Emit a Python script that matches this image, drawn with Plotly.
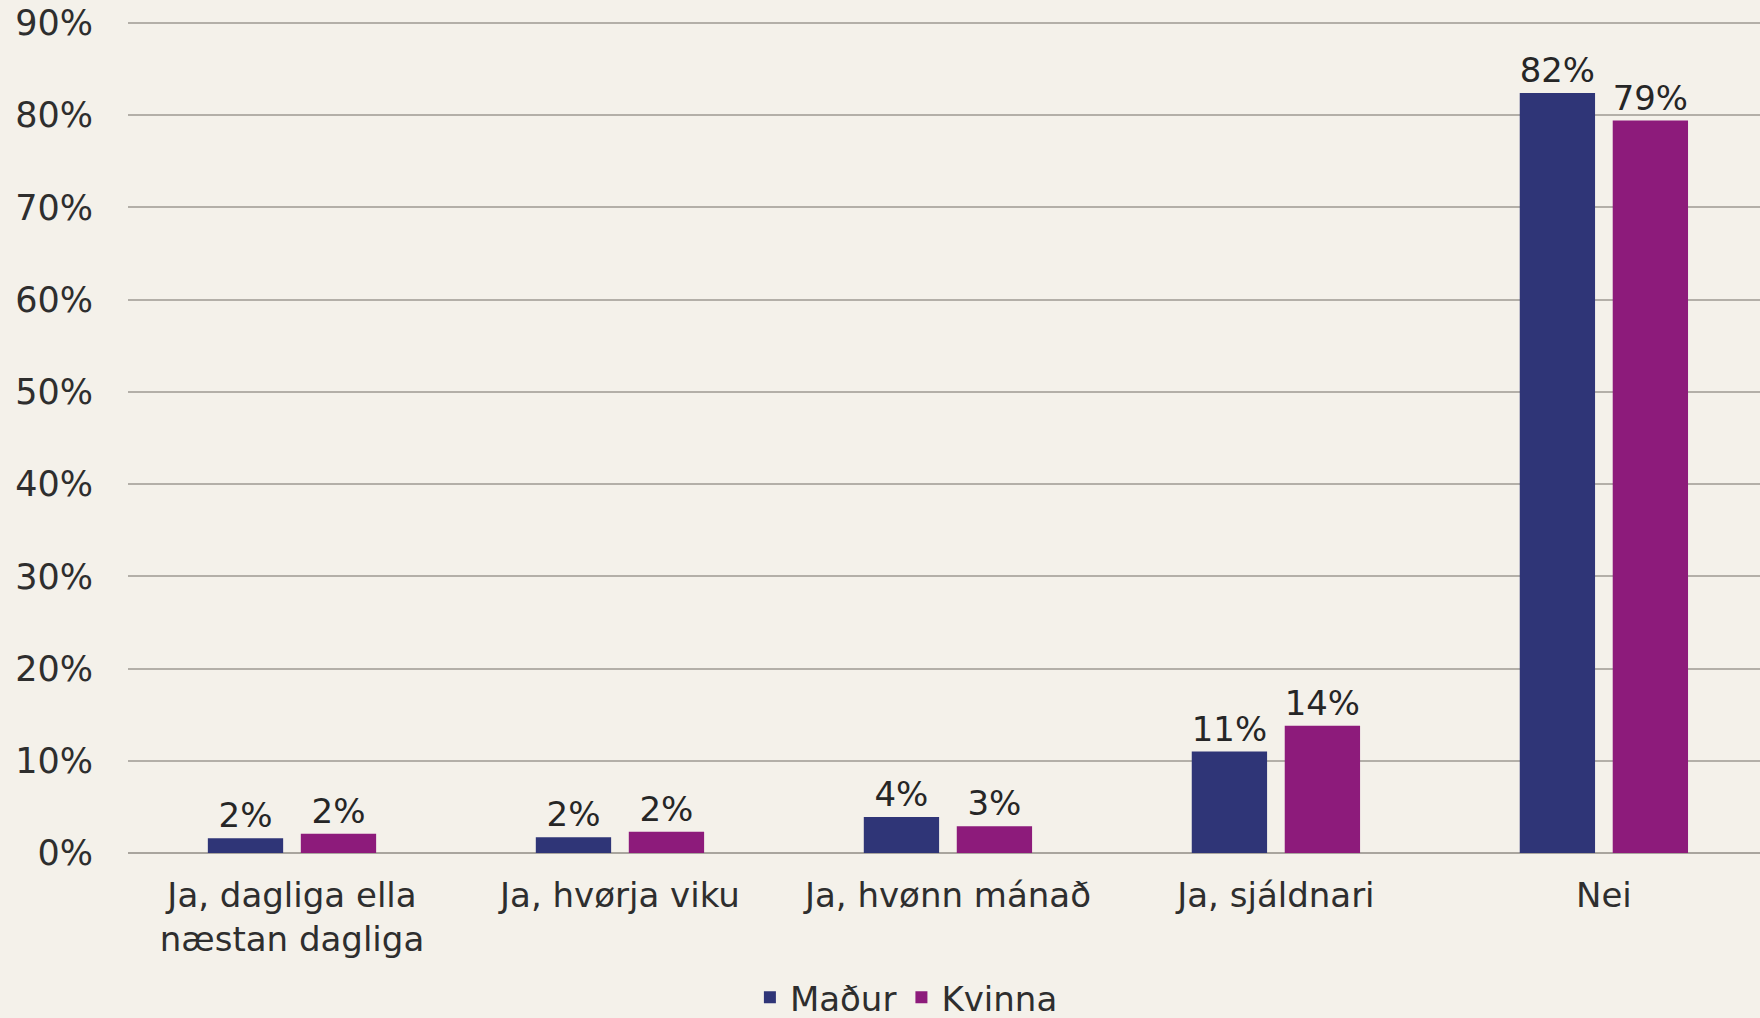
import plotly.graph_objects as go

categories = ["Ja, dagliga ella<br>næstan dagliga", "Ja, hvørja viku", "Ja, hvønn mánað",
              "Ja, sjáldnari", "Nei"]
madur = [1.6, 1.7, 3.9, 11.0, 82.4]
kvinna = [2.1, 2.3, 2.9, 13.8, 79.4]
y_ticks = [0, 10, 20, 30, 40, 50, 60, 70, 80, 90]

FONT = "DejaVu Sans, Verdana, sans-serif"
BG = "#f4f1ea"

fig = go.Figure()
fig.add_trace(go.Bar(x=categories, y=madur, name="Maður", marker_color="#2f3577",
                     texttemplate="%{y:.0f}%", textposition="outside", cliponaxis=False))
fig.add_trace(go.Bar(x=categories, y=kvinna, name="Kvinna", marker_color="#8d1b7b",
                     texttemplate="%{y:.0f}%", textposition="outside", cliponaxis=False))

fig.update_traces(textfont=dict(size=34, color="#262626", family=FONT), marker_line_width=0)

fig.update_layout(
    width=1760, height=1018,
    margin=dict(l=128, r=0, t=20, b=165),
    paper_bgcolor=BG, plot_bgcolor=BG,
    font=dict(family=FONT, size=34, color="#2e2e2e"),
    barmode="group", bargap=0.433, bargroupgap=0.19,
    xaxis=dict(range=[-0.5, 4.476], showgrid=False, ticks="", tickfont=dict(size=34),
               ticklabelstandoff=19),
    yaxis=dict(range=[0, 90.3], tickvals=y_ticks, ticktext=[f"{v}%" for v in y_ticks],
               showgrid=True, gridcolor="#b3afa8", gridwidth=1.5, zeroline=True,
               zerolinecolor="#a9a59e", zerolinewidth=1.5, ticklabelstandoff=34,
               tickfont=dict(size=35)),
    legend=dict(orientation="h", x=0.515, xref="container", xanchor="center",
                y=0.02, yref="container", yanchor="middle",
                font=dict(size=34), itemwidth=30, traceorder="normal"),
    showlegend=True,
)

fig.write_html("out.html", config={"displayModeBar": False},
               post_script="document.body.style.margin='0';")
